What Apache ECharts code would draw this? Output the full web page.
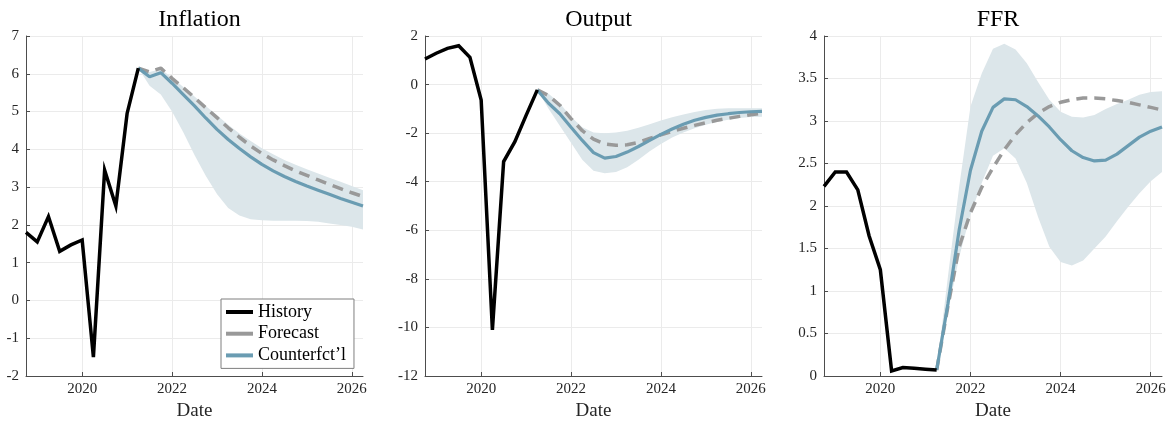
<!DOCTYPE html>
<html>
<head>
<meta charset="utf-8">
<script src="https://cdn.jsdelivr.net/npm/echarts@6/dist/echarts.min.js"></script>
<style>
  html, body { margin: 0; padding: 0; background: #fff; }
  #chart { width: 1170px; height: 425px; }
</style>
</head>
<body>
<div id="chart"></div>
<script>
// quarterly dates
var histDates = [2018.75, 2019, 2019.25, 2019.5, 2019.75, 2020, 2020.25, 2020.5, 2020.75, 2021, 2021.25];
var fcDates = [2021.25, 2021.5, 2021.75, 2022, 2022.25, 2022.5, 2022.75, 2023, 2023.25, 2023.5, 2023.75,
               2024, 2024.25, 2024.5, 2024.75, 2025, 2025.25, 2025.5, 2025.75, 2026, 2026.25];
var xTicks = [2020, 2022, 2024, 2026];

// Inflation
var inflHist = [1.80, 1.55, 2.22, 1.30, 1.47, 1.60, -1.50, 3.45, 2.50, 4.95, 6.15];
var inflFcst = [6.15, 6.05, 6.15, 5.88, 5.63, 5.37, 5.10, 4.84, 4.57, 4.32, 4.09, 3.89, 3.72, 3.57, 3.43, 3.31, 3.19, 3.07, 2.96, 2.85, 2.75];
var inflCf   = [6.15, 5.92, 6.03, 5.75, 5.45, 5.15, 4.83, 4.53, 4.26, 4.02, 3.80, 3.60, 3.43, 3.28, 3.15, 3.03, 2.92, 2.81, 2.70, 2.60, 2.50];
var inflLo   = [6.15, 5.68, 5.45, 5.00, 4.45, 3.85, 3.30, 2.82, 2.45, 2.25, 2.15, 2.12, 2.11, 2.11, 2.11, 2.10, 2.08, 2.04, 2.00, 1.95, 1.88];
var inflHi   = [6.15, 6.05, 6.12, 5.90, 5.65, 5.40, 5.15, 4.90, 4.65, 4.42, 4.22, 4.03, 3.87, 3.72, 3.59, 3.47, 3.36, 3.25, 3.14, 3.03, 2.92];

// Output
var outHist = [1.05, 1.29, 1.49, 1.60, 1.12, -0.64, -10.10, -3.17, -2.35, -1.27, -0.22];
var outFcst = [-0.22, -0.45, -0.85, -1.40, -1.90, -2.25, -2.45, -2.50, -2.48, -2.38, -2.22, -2.07, -1.93, -1.80, -1.68, -1.57, -1.47, -1.39, -1.31, -1.24, -1.18];
var outCf   = [-0.22, -0.77, -1.20, -1.76, -2.30, -2.80, -3.03, -2.96, -2.78, -2.55, -2.30, -2.05, -1.83, -1.63, -1.47, -1.35, -1.26, -1.20, -1.15, -1.12, -1.10];
var outLo   = [-0.22, -1.00, -1.70, -2.40, -3.10, -3.55, -3.65, -3.60, -3.40, -3.10, -2.75, -2.45, -2.18, -1.97, -1.80, -1.65, -1.53, -1.45, -1.38, -1.34, -1.32];
var outHi   = [-0.22, -0.38, -0.77, -1.32, -1.76, -1.97, -2.00, -1.97, -1.90, -1.78, -1.63, -1.48, -1.35, -1.23, -1.13, -1.05, -1.00, -0.98, -0.97, -0.97, -0.97];

// FFR
var ffrHist = [2.23, 2.40, 2.40, 2.19, 1.65, 1.25, 0.06, 0.10, 0.09, 0.08, 0.07];
var ffrFcst = [0.07, 0.82, 1.52, 1.92, 2.22, 2.45, 2.66, 2.84, 2.98, 3.09, 3.17, 3.22, 3.25, 3.27, 3.27, 3.26, 3.24, 3.22, 3.19, 3.16, 3.13];
var ffrCf   = [0.07, 0.85, 1.72, 2.42, 2.88, 3.16, 3.26, 3.25, 3.17, 3.06, 2.93, 2.78, 2.65, 2.57, 2.53, 2.54, 2.61, 2.71, 2.81, 2.88, 2.93];
var ffrLo   = [0.07, 0.75, 1.40, 1.90, 2.27, 2.59, 2.68, 2.56, 2.27, 1.87, 1.52, 1.34, 1.30, 1.36, 1.50, 1.64, 1.82, 1.99, 2.15, 2.29, 2.40];
var ffrHi   = [0.07, 1.17, 2.23, 3.17, 3.56, 3.85, 3.91, 3.84, 3.68, 3.46, 3.25, 3.11, 3.05, 3.04, 3.07, 3.14, 3.20, 3.25, 3.31, 3.34, 3.35];

var titles = ['Inflation', 'Output', 'FFR'];
var yMin = [-2, -12, 0];
var yMax = [7, 2, 4];
var yStep = [1, 2, 0.5];

var FONT = '"Liberation Serif", "DejaVu Serif", serif';
var C_HIST = '#000000', C_FCST = '#999999', C_CF = '#6a9cb2', C_BAND = '#dce6ea';
var AXIS_C = '#4d4d4d', TXT_C = '#262626', GRID_C = '#ebebeb';

function pairs(xs, ys) {
    return xs.map(function (x, i) { return [x, ys[i]]; });
}

var grids = [
    { left: 26, top: 36, width: 337, height: 340, containLabel: false, outerBoundsMode: 'none' },
    { left: 425, top: 36, width: 337, height: 340, containLabel: false, outerBoundsMode: 'none' },
    { left: 824, top: 36, width: 338, height: 340, containLabel: false, outerBoundsMode: 'none' }
];

var panels = [
    { hist: inflHist, fcst: inflFcst, cf: inflCf, lo: inflLo, hi: inflHi },
    { hist: outHist, fcst: outFcst, cf: outCf, lo: outLo, hi: outHi },
    { hist: ffrHist, fcst: ffrFcst, cf: ffrCf, lo: ffrLo, hi: ffrHi }
];

var xAxes = [], yAxes = [], titleList = [], series = [];

// shaded band: one polygon, upper edge forward then lower edge back
function bandRenderer(lo, hi) {
    return function (params, api) {
        if (params.dataIndex !== 0) return;
        var pts = [];
        for (var k = 0; k < fcDates.length; k++) pts.push(api.coord([fcDates[k], hi[k]]));
        for (var k2 = fcDates.length - 1; k2 >= 0; k2--) pts.push(api.coord([fcDates[k2], lo[k2]]));
        return { type: 'polygon', shape: { points: pts }, style: { fill: C_BAND }, silent: true };
    };
}

panels.forEach(function (p, i) {
    var g = grids[i];
    titleList.push({
        text: titles[i],
        left: g.left + g.width / 2,
        top: 3,
        textAlign: 'center',
        textStyle: { fontFamily: FONT, fontSize: 24, fontWeight: 'normal', color: '#000' }
    });
    xAxes.push({
        type: 'value', gridIndex: i, min: 2018.75, max: 2026.25,
        name: 'Date', nameLocation: 'middle', nameGap: 26,
        nameTextStyle: { fontFamily: FONT, fontSize: 19, color: TXT_C },
        axisLine: { show: true, onZero: false, lineStyle: { color: AXIS_C, width: 1 } },
        axisTick: { show: true, inside: true, length: 4, customValues: xTicks, lineStyle: { color: AXIS_C } },
        axisLabel: { customValues: xTicks, fontFamily: FONT, fontSize: 15, color: TXT_C, margin: 6,
                     formatter: function (v) { return String(v); } },
        splitLine: { show: true, lineStyle: { color: GRID_C, width: 1 } }
    });
    yAxes.push({
        type: 'value', gridIndex: i, min: yMin[i], max: yMax[i], interval: yStep[i],
        axisLine: { show: true, onZero: false, lineStyle: { color: AXIS_C, width: 1 } },
        axisTick: { show: true, inside: true, length: 4, lineStyle: { color: AXIS_C } },
        axisLabel: { fontFamily: FONT, fontSize: 15, color: TXT_C, margin: 7 },
        splitLine: { show: true, lineStyle: { color: GRID_C, width: 1 } }
    });

    series.push({
        type: 'custom', xAxisIndex: i, yAxisIndex: i,
        data: fcDates.map(function (x, k) { return [x, p.lo[k], p.hi[k]]; }),
        encode: { x: 0, y: [1, 2] },
        renderItem: bandRenderer(p.lo, p.hi),
        silent: true, z: 1
    });
    series.push({
        name: 'Forecast', type: 'line', xAxisIndex: i, yAxisIndex: i,
        data: pairs(fcDates, p.fcst), symbol: 'none', color: C_FCST,
        lineStyle: { color: C_FCST, width: 3.5, type: [11, 7] }, z: 3
    });
    series.push({
        name: 'Counterfct\u2019l', type: 'line', xAxisIndex: i, yAxisIndex: i,
        data: pairs(fcDates, p.cf), symbol: 'none', color: C_CF,
        lineStyle: { color: C_CF, width: 3.2 }, z: 4
    });
    series.push({
        name: 'History', type: 'line', xAxisIndex: i, yAxisIndex: i,
        data: pairs(histDates, p.hist), symbol: 'none', color: C_HIST,
        lineStyle: { color: C_HIST, width: 3.5, join: 'miter' }, z: 5
    });
});

var chart = echarts.init(document.getElementById('chart'));
chart.setOption({
    backgroundColor: '#fff',
    animation: false,
    title: titleList,
    grid: grids,
    xAxis: xAxes,
    yAxis: yAxes,
    legend: {
        data: ['History', 'Forecast', 'Counterfct\u2019l'],
        orient: 'vertical', left: 221, top: 299,
        icon: 'rect', itemWidth: 27, itemHeight: 4, itemGap: 3.7, itemTextGap: 5,
        padding: [4, 8, 4, 5],
        borderColor: '#7f7f7f', borderWidth: 1, backgroundColor: '#fff',
        selectedMode: false,
        textStyle: { fontFamily: FONT, fontSize: 18, lineHeight: 18, color: '#000' }
    },
    series: series
});
</script>
</body>
</html>
